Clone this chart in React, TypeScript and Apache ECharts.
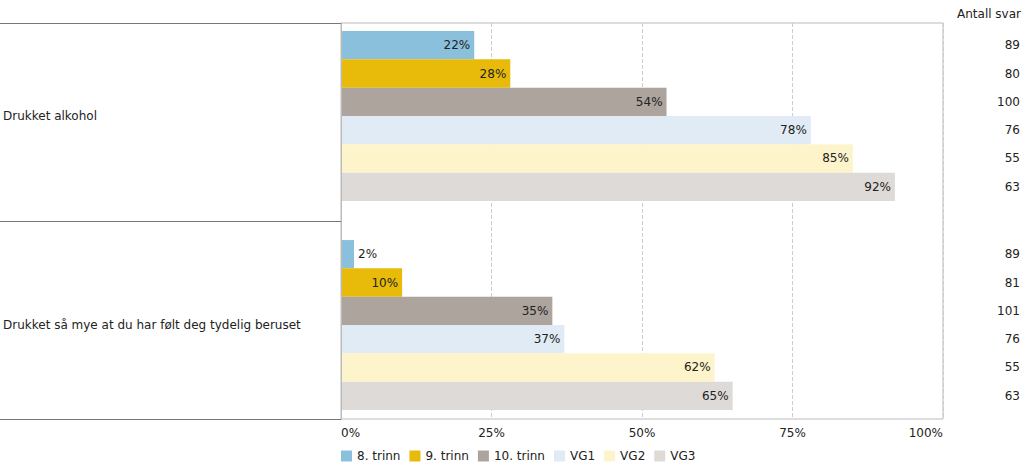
import React, { useEffect, useRef } from "react";
import * as echarts from "echarts";

const categories = ["Drukket alkohol", "Drukket så mye at du har følt deg tydelig beruset"];
const seriesNames = ["8. trinn", "9. trinn", "10. trinn", "VG1", "VG2", "VG3"];
const seriesColors = ["#8bc0dd", "#e8bb0a", "#aca49d", "#e0ebf5", "#fef4cc", "#dedad7"];
const values = [
  [22, 2],
  [28, 10],
  [54, 35],
  [78, 37],
  [85, 62],
  [92, 65],
];
const answers = [
  [89, 89],
  [80, 81],
  [100, 101],
  [76, 76],
  [55, 55],
  [63, 63],
];
const xTicks = [0, 25, 50, 75, 100];
const answersTitle = "Antall svar";

const FONT = "DejaVu Sans, Verdana, sans-serif";

export default function App() {
  const ref = useRef<HTMLDivElement>(null);
  useEffect(() => {
    if (!ref.current) return;
    const chart = echarts.init(ref.current, undefined, { renderer: "svg" });
    const xMax = xTicks[xTicks.length - 1];
    const series: any[] = [];
    seriesNames.forEach((name, i) => {
      const stack = "s" + i;
      series.push({
        name,
        type: "bar",
        stack,
        xAxisIndex: 0,
        yAxisIndex: 0,
        barGap: "0%",
        barCategoryGap: "18.7%",
        itemStyle: { color: seriesColors[i] },
        data: values[i].map((v) => ({
          value: v,
          label: {
            show: true,
            position: v < 5 ? "right" : "insideRight",
            distance: 4,
            formatter: "{c}%",
            color: "#222",
            fontSize: 12,
            fontFamily: FONT,
          },
        })),
      });
      series.push({
        name: name + "_n",
        type: "bar",
        stack,
        xAxisIndex: 0,
        yAxisIndex: 0,
        barGap: "0%",
        barCategoryGap: "18.7%",
        itemStyle: { color: "rgba(0,0,0,0)" },
        silent: true,
        data: values[i].map((v, j) => ({
          value: xMax - v,
          label: {
            show: true,
            position: "insideRight",
            distance: 0,
            offset: [77, 0],
            formatter: String(answers[i][j]),
            color: "#222",
            fontSize: 12,
            fontFamily: FONT,
          },
        })),
      });
    });
    chart.setOption({
      animation: false,
      textStyle: { fontFamily: FONT },
      title: {
        text: answersTitle,
        right: 3,
        top: 8,
        padding: 0,
        textStyle: { fontSize: 12, fontWeight: "normal", color: "#222", fontFamily: FONT },
      },
      legend: {
        data: seriesNames,
        left: 336,
        top: 445,
        icon: "rect",
        itemWidth: 11,
        itemHeight: 11,
        itemGap: 9,
        textStyle: { fontSize: 12, color: "#222", fontFamily: FONT },
      },
      grid: [
        { left: 341, right: 81, top: 11.5, bottom: 33.5 },
        { left: 341, right: 81, top: 23, bottom: 44, show: true, borderColor: "#bbb", borderWidth: 1 },
      ],
      xAxis: [
        {
          type: "value",
          gridIndex: 0,
          min: xTicks[0],
          max: xMax,
          interval: 25,
          show: false,
          splitLine: { show: false },
        },
        {
          type: "value",
          gridIndex: 1,
          min: xTicks[0],
          max: xMax,
          interval: 25,
          axisLine: { show: false },
          axisTick: { show: false },
          axisLabel: {
            formatter: "{value}%",
            fontSize: 12,
            color: "#222",
            fontFamily: FONT,
            margin: 8,
            alignMinLabel: "left",
            alignMaxLabel: "right",
          },
          splitLine: { show: true, lineStyle: { type: "dashed", color: "#ccc" } },
        },
      ],
      yAxis: [
        {
          type: "category",
          gridIndex: 0,
          inverse: true,
          data: categories,
          axisLine: { show: false },
          axisTick: { show: false },
          axisLabel: {
            align: "left",
            margin: 339,
            fontSize: 12,
            color: "#222",
            fontFamily: FONT,
          },
        },
        {
          type: "category",
          gridIndex: 1,
          inverse: true,
          data: categories,
          axisLine: { show: true, lineStyle: { color: "#bbb" } },
          axisTick: { show: true, length: 341, lineStyle: { color: "#777" } },
          axisLabel: { show: false },
        },
      ],
      series,
    });
    return () => chart.dispose();
  }, []);
  return <div ref={ref} style={{ width: 1024, height: 463, position: "absolute", left: 0, top: 0 }} />;
}
